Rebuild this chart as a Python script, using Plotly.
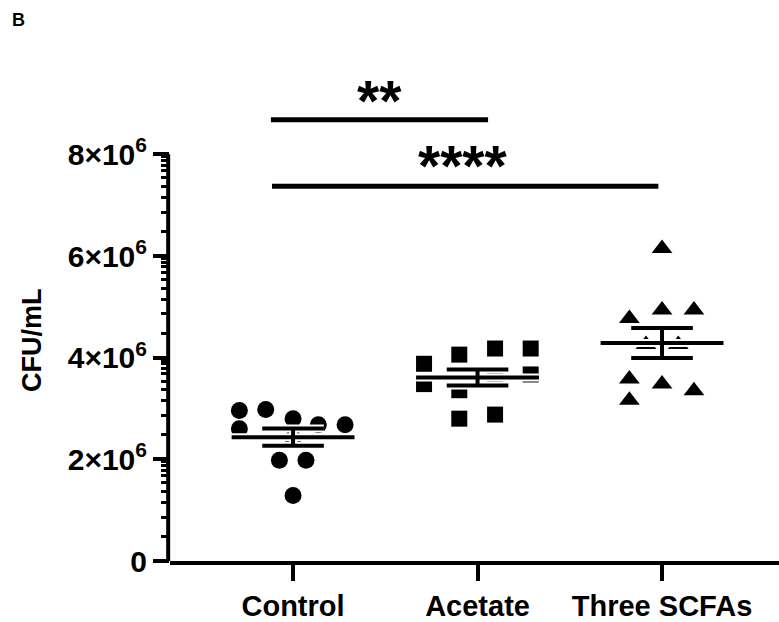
import numpy as np
import plotly.graph_objects as go

# ---------------- data ----------------
categories = ["Control", "Acetate", "Three SCFAs"]
control_values = [2.96e6, 2.98e6, 2.80e6, 2.68e6, 2.68e6, 2.60e6, 2.41e6, 1.98e6, 1.98e6, 1.29e6]
acetate_values = [3.88e6, 4.06e6, 4.18e6, 4.18e6, 3.48e6, 3.36e6, 3.61e6, 3.67e6, 2.80e6, 2.88e6]
scfa_values = [6.15e6, 4.94e6, 4.94e6, 4.77e6, 4.26e6, 4.26e6, 3.58e6, 3.48e6, 3.35e6, 3.16e6]

# horizontal scatter offsets (scatter-dot layout, category units)
control_offsets = [-0.291, -0.148, 0.0, 0.137, 0.282, -0.291, 0.0, -0.074, 0.070, 0.0]
acetate_offsets = [-0.29, -0.099, 0.095, 0.288, -0.29, -0.099, 0.095, 0.288, -0.099, 0.095]
scfa_offsets = [0.0, 0.0, 0.173, -0.177, -0.087, 0.088, -0.177, 0.0, 0.173, -0.177]

y_tick_vals = [0, 2e6, 4e6, 6e6, 8e6]
y_tick_text = ["0", "2×10<sup>6</sup>", "4×10<sup>6</sup>", "6×10<sup>6</sup>", "8×10<sup>6</sup>"]

# significance comparisons
sig_x0 = [-0.12, -0.114]
sig_x1 = [1.057, 1.98]
sig_y = [8.68e6, 7.37e6]
sig_label = ["**", "****"]
sig_label_x = [0.466, 0.921]
sig_label_y = [9.05e6, 7.77e6]

# ---------------- figure ----------------
FONT = "Liberation Sans, Arial, Helvetica, sans-serif"
groups = [control_values, acetate_values, scfa_values]
offsets = [control_offsets, acetate_offsets, scfa_offsets]
symbols = ["circle", "square", "triangle-up"]
sizes = [17, 16, 18]

fig = go.Figure()

for i, (vals, offs, sym, sz) in enumerate(zip(groups, offsets, symbols, sizes)):
    fig.add_trace(go.Scatter(
        x=[i + o for o in offs], y=vals, mode="markers",
        marker=dict(symbol=sym, size=sz, color="black", line=dict(width=0)),
        showlegend=False, hoverinfo="y", cliponaxis=False,
    ))

# mean ± SEM
ex, ey = [], []
for i, vals in enumerate(groups):
    a = np.array(vals)
    m = a.mean()
    s = a.std(ddof=1) / np.sqrt(len(a))
    ex += [i - 0.333, i + 0.333, None, i, i, None,
           i - 0.167, i + 0.167, None, i - 0.167, i + 0.167, None]
    ey += [m, m, None, m - s, m + s, None,
           m + s, m + s, None, m - s, m - s, None]

fig.add_trace(go.Scatter(x=ex, y=ey, mode="lines", line=dict(color="white", width=8),
                         showlegend=False, hoverinfo="skip"))
fig.add_trace(go.Scatter(x=ex, y=ey, mode="lines", line=dict(color="black", width=4),
                         showlegend=False, hoverinfo="skip"))

shapes = []
# y axis line from 0 to 8e6
shapes.append(dict(type="line", xref="paper", yref="y", x0=-0.003, x1=-0.003,
                   y0=0, y1=y_tick_vals[-1], line=dict(color="black", width=4)))
for x0, x1, y in zip(sig_x0, sig_x1, sig_y):
    shapes.append(dict(type="line", xref="x", yref="y", x0=x0, x1=x1, y0=y, y1=y,
                       line=dict(color="black", width=5)))

annotations = []
for lab, lx, ly in zip(sig_label, sig_label_x, sig_label_y):
    annotations.append(dict(x=lx, y=ly, xref="x", yref="y", text=lab, showarrow=False,
                            xanchor="center", yanchor="middle",
                            font=dict(family=FONT, size=57, color="black", weight="bold")))
annotations.append(dict(x=-0.2266, y=0.453, xref="paper", yref="paper", text="CFU/mL",
                        textangle=-90, showarrow=False, xanchor="center", yanchor="middle",
                        font=dict(family=FONT, size=27, color="black", weight="bold")))
annotations.append(dict(x=-0.262, y=1.108, xref="paper", yref="paper", text="B",
                        showarrow=False, xanchor="left", yanchor="middle",
                        font=dict(family=FONT, size=18, color="black", weight="bold")))

minor_fracs = [0.24, 0.43, 0.575, 0.685, 0.77, 0.84, 0.895, 0.94, 0.975]
minor_vals = [y_tick_vals[k] + f * (y_tick_vals[k + 1] - y_tick_vals[k])
              for k in range(len(y_tick_vals) - 1) for f in minor_fracs]

fig.update_layout(
    width=779, height=622,
    margin=dict(l=170, r=0, t=73, b=57, pad=0),
    paper_bgcolor="white", plot_bgcolor="white",
    shapes=shapes, annotations=annotations,
    xaxis=dict(
        range=[-0.667, 2.634], tickmode="array", tickvals=[0, 1, 2], ticktext=categories,
        showline=True, linecolor="black", linewidth=4, ticks="outside", ticklen=16,
        tickwidth=3.5, tickcolor="black", showgrid=False, zeroline=False,
        tickfont=dict(family=FONT, size=29, color="black", weight="bold"),
    ),
    yaxis=dict(
        range=[0, 9.6e6], tickmode="array", tickvals=y_tick_vals, ticktext=y_tick_text,
        showline=False, ticks="outside", ticklen=16, tickwidth=3.5, tickcolor="black",
        showgrid=False, zeroline=False,
        tickfont=dict(family=FONT, size=30, color="black", weight="bold"),
        minor=dict(tickmode="array", tickvals=minor_vals, ticks="outside", ticklen=8,
                   tickwidth=2.5, tickcolor="black", showgrid=False),
    ),
)

fig.write_html("out.html", config={"displayModeBar": False},
               post_script="document.body.style.margin='0';")
